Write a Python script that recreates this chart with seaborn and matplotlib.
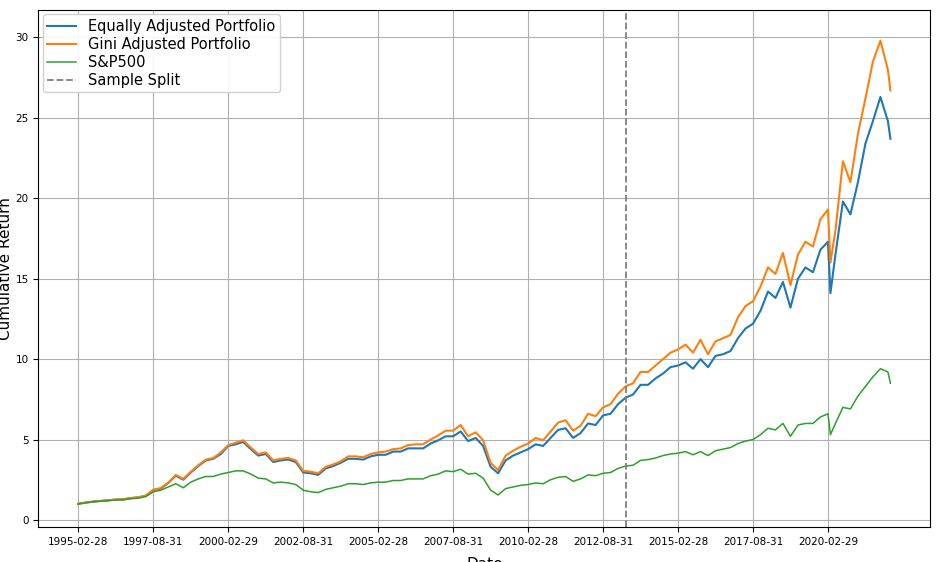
import numpy as np
import pandas as pd
import matplotlib
matplotlib.use("Agg")
import matplotlib.pyplot as plt
import seaborn as sns

# Quarterly observation dates (Feb/May/Aug/Nov) plus extra points
dates = [f"{y}-{m}" for y in range(1995, 2022) for m in ("02", "05", "08", "11")]
dates += ["2020-03", "2022-02", "2022-03"]

equal = [
    1.00, 1.08, 1.14, 1.18, 1.22, 1.26, 1.28, 1.35, 1.40, 1.50, 1.85, 1.95,
    2.30, 2.75, 2.50, 2.95, 3.35, 3.70, 3.80, 4.10, 4.60, 4.70, 4.85, 4.40,
    4.00, 4.10, 3.60, 3.70, 3.75, 3.60, 2.95, 2.90, 2.80, 3.20, 3.35, 3.55,
    3.80, 3.80, 3.75, 3.95, 4.05, 4.05, 4.25, 4.25, 4.45, 4.45, 4.45, 4.75,
    4.95, 5.20, 5.20, 5.50, 4.90, 5.10, 4.60, 3.30, 2.90, 3.70, 4.00, 4.20,
    4.40, 4.70, 4.60, 5.10, 5.60, 5.70, 5.10, 5.40, 6.00, 5.90, 6.50, 6.60,
    7.20, 7.60, 7.80, 8.40, 8.40, 8.80, 9.10, 9.50, 9.60, 9.80, 9.40, 10.00,
    9.50, 10.20, 10.30, 10.50, 11.30, 11.90, 12.20, 13.00, 14.20, 13.80, 14.80, 13.20,
    15.00, 15.70, 15.40, 16.80, 17.30, 16.50, 19.80, 19.00, 21.00, 23.40, 24.80, 26.30,
    14.10, 24.80, 23.70,
]
gini = [
    1.00, 1.08, 1.14, 1.18, 1.22, 1.27, 1.29, 1.36, 1.41, 1.52, 1.88, 1.98,
    2.32, 2.80, 2.55, 3.00, 3.40, 3.75, 3.85, 4.20, 4.65, 4.80, 4.95, 4.50,
    4.10, 4.20, 3.70, 3.80, 3.85, 3.70, 3.05, 3.00, 2.90, 3.30, 3.45, 3.65,
    3.95, 3.95, 3.90, 4.10, 4.20, 4.25, 4.40, 4.45, 4.65, 4.70, 4.70, 5.00,
    5.25, 5.55, 5.55, 5.90, 5.20, 5.45, 4.95, 3.55, 3.10, 4.00, 4.30, 4.55,
    4.75, 5.10, 4.95, 5.50, 6.05, 6.20, 5.55, 5.85, 6.60, 6.45, 7.00, 7.20,
    7.85, 8.30, 8.50, 9.20, 9.20, 9.60, 10.00, 10.40, 10.60, 10.90, 10.40, 11.20,
    10.30, 11.10, 11.30, 11.50, 12.60, 13.30, 13.60, 14.50, 15.70, 15.30, 16.60, 14.60,
    16.50, 17.30, 17.00, 18.70, 19.30, 18.00, 22.30, 21.00, 24.00, 26.20, 28.50, 29.80,
    16.00, 28.00, 26.70,
]
sp500 = [
    1.00, 1.07, 1.13, 1.17, 1.20, 1.24, 1.25, 1.32, 1.35, 1.45, 1.75, 1.85,
    2.05, 2.25, 2.00, 2.35, 2.55, 2.70, 2.70, 2.85, 2.95, 3.05, 3.05, 2.85,
    2.60, 2.55, 2.30, 2.35, 2.30, 2.20, 1.85, 1.75, 1.70, 1.90, 2.00, 2.10,
    2.25, 2.25, 2.20, 2.30, 2.35, 2.35, 2.45, 2.45, 2.55, 2.55, 2.55, 2.75,
    2.85, 3.05, 3.00, 3.15, 2.85, 2.90, 2.60, 1.85, 1.55, 1.95, 2.05, 2.15,
    2.20, 2.30, 2.25, 2.50, 2.65, 2.70, 2.40, 2.55, 2.80, 2.75, 2.90, 2.95,
    3.20, 3.35, 3.40, 3.70, 3.75, 3.85, 4.00, 4.10, 4.15, 4.25, 4.05, 4.25,
    4.00, 4.30, 4.40, 4.50, 4.75, 4.90, 5.00, 5.30, 5.70, 5.60, 6.00, 5.20,
    5.90, 6.00, 6.00, 6.40, 6.60, 6.00, 7.00, 6.90, 7.70, 8.30, 8.90, 9.40,
    5.30, 9.20, 8.50,
]

tick_labels = ["1995-02-28", "1997-08-31", "2000-02-29", "2002-08-31", "2005-02-28",
               "2007-08-31", "2010-02-28", "2012-08-31", "2015-02-28", "2017-08-31",
               "2020-02-29"]
split_date = "2013-05"


def month_index(s):
    y, m = int(s[:4]), int(s[5:7])
    return (y - 1995) * 12 + (m - 2)


df = pd.DataFrame({"date": dates, "Equally Adjusted Portfolio": equal,
                   "Gini Adjusted Portfolio": gini, "S&P500": sp500})
df["t"] = df["date"].map(month_index)
df = df.sort_values("t")
long = df.melt(id_vars=["date", "t"], var_name="series", value_name="ret")

fig = plt.figure(figsize=(9.36, 5.62), dpi=100)
ax = fig.add_axes([0.041, 0.062, 0.953, 0.92])
palette = {"Equally Adjusted Portfolio": "#1f77b4", "Gini Adjusted Portfolio": "#ff7f0e",
           "S&P500": "#2ca02c"}
sns.lineplot(data=long, x="t", y="ret", hue="series", palette=palette, ax=ax,
             linewidth=1.5, sort=True)
for line in ax.lines:
    if line.get_color() == "#2ca02c":
        line.set_linewidth(1.1)
ax.axvline(month_index(split_date), color="gray", linestyle="--", linewidth=1.3,
           label="Sample Split")
ax.set_xticks([month_index(s) for s in tick_labels])
ax.set_xticklabels(tick_labels, fontsize=7.5)
ax.tick_params(axis="y", labelsize=7.5)
ax.set_xlim(-16, 341)
ax.set_ylim(-0.45, 31.7)
ax.set_yticks([0, 5, 10, 15, 20, 25, 30])
ax.grid(True, color="#b0b0b0", linewidth=0.8)
ax.set_xlabel("Date", fontsize=11, labelpad=1)
ax.set_ylabel("Cumulative Return", fontsize=11, labelpad=1)
ax.yaxis.set_label_coords(-0.028, 0.5)
ax.xaxis.set_label_coords(0.5, -0.058)
h, l = ax.get_legend_handles_labels()
ax.legend(h, l, loc="upper left", fontsize=10.5, framealpha=0.9,
          borderpad=0.3, labelspacing=0.2, borderaxespad=0.3)
fig.savefig("out.png", dpi=100)
